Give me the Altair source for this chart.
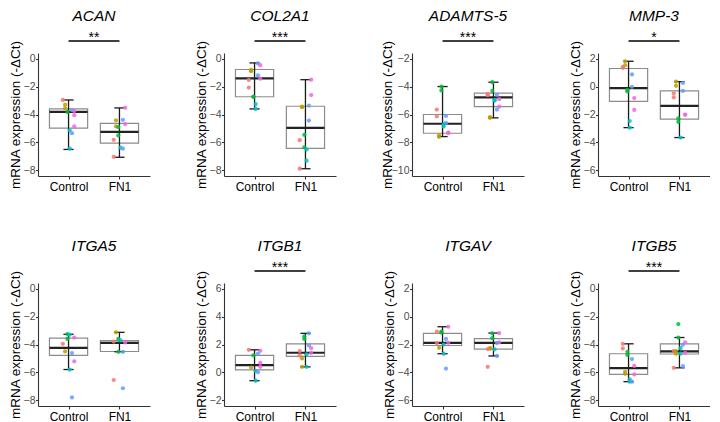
import altair as alt
import pandas as pd

# ---------------- data ----------------
GENES = ["ACAN", "COL2A1", "ADAMTS-5", "MMP-3", "ITGA5", "ITGB1", "ITGAV", "ITGB5"]
AXIS_TOP = [0, 0, -2, 2, 0, 6, 2, 0]          # highest tick of each panel (range 8)
SIGNIF = ["**", "***", "***", "*", "", "***", "", "***"]
GROUPS = ["Control", "FN1"]
DONOR_COLORS = ["#F8766D", "#B79F00", "#00BA38", "#00BFC4", "#619CFF", "#F564E3"]

# individual measurements and donor index per gene and group
ACAN_CTRL = [-2.96, -3.3, -3.55, -3.68, -3.75, -3.82, -4.05, -4.85, -5.13, -5.34, -6.45]
ACAN_CTRL_D = [0, 1, 1, 4, 5, 2, 5, 5, 3, 4, 3]
ACAN_FN1 = [-3.51, -4.38, -4.42, -4.68, -4.85, -4.9, -5.5, -5.81, -6.37, -6.45, -7.03]
ACAN_FN1_D = [5, 4, 1, 5, 1, 2, 2, 0, 3, 4, 0]

COL2A1_CTRL = [-0.35, -0.47, -0.8, -0.9, -1.2, -1.44, -1.53, -2.07, -2.73, -2.73, -3.25, -3.6]
COL2A1_CTRL_D = [4, 5, 1, 1, 4, 5, 0, 0, 2, 2, 3, 3]
COL2A1_FN1 = [-1.51, -2.61, -3.37, -3.44, -3.48, -4.43, -5.45, -5.84, -6.36, -6.5, -7.3, -7.88]
COL2A1_FN1_D = [5, 5, 4, 1, 1, 4, 2, 0, 2, 3, 3, 0]

ADAMTS5_CTRL = [-4.0, -4.28, -5.65, -6.1, -6.14, -6.6, -6.7, -6.85, -7.3, -7.32, -7.48, -7.6]
ADAMTS5_CTRL_D = [2, 2, 0, 4, 0, 4, 3, 3, 5, 5, 1, 1]
ADAMTS5_FN1 = [-3.69, -4.31, -4.54, -4.59, -4.62, -4.9, -4.95, -5.0, -5.44, -5.65, -6.19, -6.24]
ADAMTS5_FN1_D = [2, 2, 0, 4, 0, 5, 3, 3, 5, 4, 1, 1]

MMP3_CTRL = [1.81, 1.53, 1.39, 1.34, 0.87, -0.02, -0.24, -0.35, -0.82, -1.67, -2.47, -2.94]
MMP3_CTRL_D = [1, 1, 0, 0, 4, 4, 2, 2, 5, 5, 3, 3]
MMP3_FN1 = [0.35, 0.26, 0.05, -0.31, -0.49, -0.78, -2.0, -2.02, -2.28, -2.52, -3.65]
MMP3_FN1_D = [1, 4, 1, 4, 0, 0, 5, 5, 2, 2, 3]

ITGA5_CTRL = [-3.25, -3.3, -3.5, -3.6, -3.95, -4.5, -4.61, -5.2, -5.79, -7.79]
ITGA5_CTRL_D = [2, 3, 5, 2, 0, 1, 4, 5, 3, 4]
ITGA5_FN1 = [-3.13, -3.6, -3.7, -3.79, -3.85, -4.52, -4.52, -6.54, -7.13]
ITGA5_FN1_D = [1, 2, 3, 0, 5, 4, 2, 0, 4]

ITGB1_CTRL = [1.62, 1.55, 1.34, 1.22, 0.68, 0.4, 0.35, 0.12, 0.02, -0.59]
ITGB1_CTRL_D = [0, 5, 4, 2, 5, 5, 1, 3, 4, 3]
ITGB1_FN1 = [2.8, 2.59, 2.4, 1.93, 1.74, 1.53, 1.4, 1.3, 1.22, 1.0, 0.4, 0.4]
ITGB1_FN1_D = [4, 2, 2, 4, 5, 0, 5, 3, 0, 1, 3, 1]

ITGAV_CTRL = [-0.73, -1.08, -1.08, -1.15, -1.6, -1.88, -1.9, -2.0, -2.24, -2.66, -3.72]
ITGAV_CTRL_D = [5, 0, 2, 2, 4, 5, 0, 3, 1, 3, 4]
ITGAV_FN1 = [-1.18, -1.2, -1.55, -1.84, -1.9, -2.26, -2.3, -2.33, -2.35, -2.82, -3.6]
ITGAV_FN1_D = [5, 2, 2, 5, 4, 1, 1, 0, 3, 4, 0]

ITGB5_CTRL = [-3.95, -4.28, -4.52, -4.75, -5.04, -5.53, -5.95, -6.1, -6.14, -6.49, -6.66, -6.66]
ITGB5_CTRL_D = [0, 0, 2, 2, 4, 5, 1, 1, 5, 3, 3, 4]
ITGB5_FN1 = [-2.54, -3.5, -3.84, -4.02, -4.26, -4.47, -4.47, -4.6, -4.66, -4.66, -5.55, -5.67]
ITGB5_FN1_D = [2, 2, 5, 4, 3, 0, 1, 5, 1, 3, 4, 0]

POINTS = {
    "ACAN": (ACAN_CTRL, ACAN_CTRL_D, ACAN_FN1, ACAN_FN1_D),
    "COL2A1": (COL2A1_CTRL, COL2A1_CTRL_D, COL2A1_FN1, COL2A1_FN1_D),
    "ADAMTS-5": (ADAMTS5_CTRL, ADAMTS5_CTRL_D, ADAMTS5_FN1, ADAMTS5_FN1_D),
    "MMP-3": (MMP3_CTRL, MMP3_CTRL_D, MMP3_FN1, MMP3_FN1_D),
    "ITGA5": (ITGA5_CTRL, ITGA5_CTRL_D, ITGA5_FN1, ITGA5_FN1_D),
    "ITGB1": (ITGB1_CTRL, ITGB1_CTRL_D, ITGB1_FN1, ITGB1_FN1_D),
    "ITGAV": (ITGAV_CTRL, ITGAV_CTRL_D, ITGAV_FN1, ITGAV_FN1_D),
    "ITGB5": (ITGB5_CTRL, ITGB5_CTRL_D, ITGB5_FN1, ITGB5_FN1_D),
}

# box statistics: [lower whisker, Q1, median, Q3, upper whisker]
BOX_CTRL = {
    "ACAN": [-6.5, -4.97, -3.81, -3.6, -2.96],
    "COL2A1": [-3.6, -2.73, -1.41, -0.78, -0.31],
    "ADAMTS-5": [-7.58, -7.34, -6.66, -6.0, -4.0],
    "MMP-3": [-2.94, -1.06, -0.12, 1.29, 1.81],
    "ITGA5": [-5.79, -4.78, -4.24, -3.55, -3.27],
    "ITGB1": [-0.59, 0.19, 0.52, 1.22, 1.62],
    "ITGAV": [-2.66, -2.07, -1.88, -1.2, -0.73],
    "ITGB5": [-6.66, -6.14, -5.69, -4.66, -3.95],
}
BOX_FN1 = {
    "ACAN": [-7.06, -6.05, -5.25, -4.64, -3.53],
    "COL2A1": [-7.88, -6.42, -4.96, -3.41, -1.51],
    "ADAMTS-5": [-6.24, -5.44, -4.78, -4.47, -3.69],
    "MMP-3": [-3.65, -2.33, -1.39, -0.31, 0.35],
    "ITGA5": [-4.52, -4.5, -3.88, -3.72, -3.13],
    "ITGB1": [0.4, 1.15, 1.41, 2.05, 2.8],
    "ITGAV": [-2.82, -2.33, -1.88, -1.58, -1.18],
    "ITGB5": [-5.67, -4.68, -4.49, -3.95, -3.5],
}

FONT = "Liberation Sans"
Y_TITLE = "mRNA expression (-\u0394Ct)"


def panel(i):
    gene = GENES[i]
    top = AXIS_TOP[i]
    ticks = [top - 2 * k for k in range(5)]
    lo_t = top - 8
    c_vals, c_d, f_vals, f_d = POINTS[gene]

    pts = pd.DataFrame({
        "group": [GROUPS[0]] * len(c_vals) + [GROUPS[1]] * len(f_vals),
        "value": c_vals + f_vals,
        "donor": c_d + f_d,
    })
    pts["pos"] = pts["group"].map({GROUPS[0]: 1, GROUPS[1]: 2})

    stats = pd.DataFrame(
        [[GROUPS[0], 1] + BOX_CTRL[gene], [GROUPS[1], 2] + BOX_FN1[gene]],
        columns=["group", "pos", "lo", "q1", "med", "q3", "hi"],
    )

    sig_df = pd.DataFrame({"x1": [1], "x2": [2], "mid": [1.5],
                           "label": [SIGNIF[i] if SIGNIF[i] else "ns"],
                           "show": [1 if SIGNIF[i] else 0]})

    wide = gene == "ADAMTS-5"
    xscale = alt.Scale(domain=[0.4, 2.6], nice=False, zero=False)
    xaxis = alt.Axis(values=[1, 2], title=None, grid=False,
                     labelExpr=f"datum.value == 1 ? '{GROUPS[0]}' : '{GROUPS[1]}'",
                     labelColor="black", labelFontSize=12, labelPadding=2,
                     labelFont=FONT, tickSize=3)
    yscale = alt.Scale(domain=[lo_t - 0.4, top + 0.4], nice=False, zero=False)
    yaxis = alt.Axis(values=ticks, title=Y_TITLE, grid=False, labelColor="#4d4d4d",
                     labelFontSize=10.5, labelPadding=0.5, titleFontSize=13.5,
                     titleFontWeight="normal", titleColor="black",
                     titlePadding=5 if wide else 3, minExtent=12.5, maxExtent=12.5,
                     labelFont=FONT, titleFont=FONT, tickSize=2.5)

    X = alt.X("pos:Q", scale=xscale, axis=xaxis)

    sbase = alt.Chart(stats).transform_calculate(
        left="datum.pos - 0.375", right="datum.pos + 0.375",
        capl="datum.pos - 0.1", capr="datum.pos + 0.1")

    box = sbase.mark_rect(fill="white", stroke="#8c8c8c", strokeWidth=1.2).encode(
        x=alt.X("left:Q", scale=xscale, axis=xaxis), x2="right:Q",
        y=alt.Y("q1:Q", scale=yscale, axis=yaxis), y2="q3:Q")
    whisk = sbase.mark_rule(color="#1a1a1a", strokeWidth=1.3).encode(
        x=X, y=alt.Y("lo:Q", scale=yscale, axis=yaxis), y2="hi:Q")
    cap_lo = sbase.mark_rule(color="#1a1a1a", strokeWidth=1.3).encode(
        x=alt.X("capl:Q", scale=xscale, axis=xaxis), x2="capr:Q",
        y=alt.Y("lo:Q", scale=yscale, axis=yaxis))
    cap_hi = sbase.mark_rule(color="#1a1a1a", strokeWidth=1.3).encode(
        x=alt.X("capl:Q", scale=xscale, axis=xaxis), x2="capr:Q",
        y=alt.Y("hi:Q", scale=yscale, axis=yaxis))
    median = sbase.mark_rule(color="#222222", strokeWidth=2.2).encode(
        x=alt.X("left:Q", scale=xscale, axis=xaxis), x2="right:Q",
        y=alt.Y("med:Q", scale=yscale, axis=yaxis))

    # points spread sideways by donor (deterministic stand-in for ggplot's jitter)
    dots = alt.Chart(pts).transform_calculate(
        jx="datum.pos + (datum.donor - 2.5) * 0.045"
    ).mark_circle(size=18, opacity=0.85).encode(
        x=alt.X("jx:Q", scale=xscale, axis=xaxis),
        y=alt.Y("value:Q", scale=yscale, axis=yaxis),
        color=alt.Color("donor:N", scale=alt.Scale(domain=list(range(6)),
                                                   range=DONOR_COLORS), legend=None),
    )

    sig_rule = alt.Chart(sig_df).mark_rule(color="black", strokeWidth=1.7).encode(
        x=alt.X("x1:Q", scale=xscale, axis=xaxis), x2="x2:Q", y=alt.value(-12),
        strokeOpacity=alt.StrokeOpacity("show:Q", scale=None))
    sig_text = alt.Chart(sig_df).mark_text(fontSize=14, baseline="alphabetic",
                                           font=FONT, color="black").encode(
        x=alt.X("mid:Q", scale=xscale, axis=xaxis), y=alt.value(-11), text="label:N",
        opacity=alt.Opacity("show:Q", scale=None))

    return alt.layer(box, whisk, cap_lo, cap_hi, median, dots, sig_rule, sig_text).properties(
        width=112, height=123,
        title=alt.Title(gene, fontSize=15.5, fontStyle="italic", fontWeight="normal",
                        font=FONT, color="black", anchor="middle", frame="group", offset=7),
    )


chart = alt.concat(*[panel(i) for i in range(8)], columns=4, align="each",
                   spacing={"row": 46, "column": 44}).properties(
    padding={"left": 0, "top": 0, "right": 0, "bottom": 0}
).configure_view(stroke=None).configure_axis(
    domainColor="#333333", tickColor="#333333", domainWidth=1.1, tickWidth=1.1
)

chart.save("out.html", embed_options={"renderer": "svg", "actions": False})
